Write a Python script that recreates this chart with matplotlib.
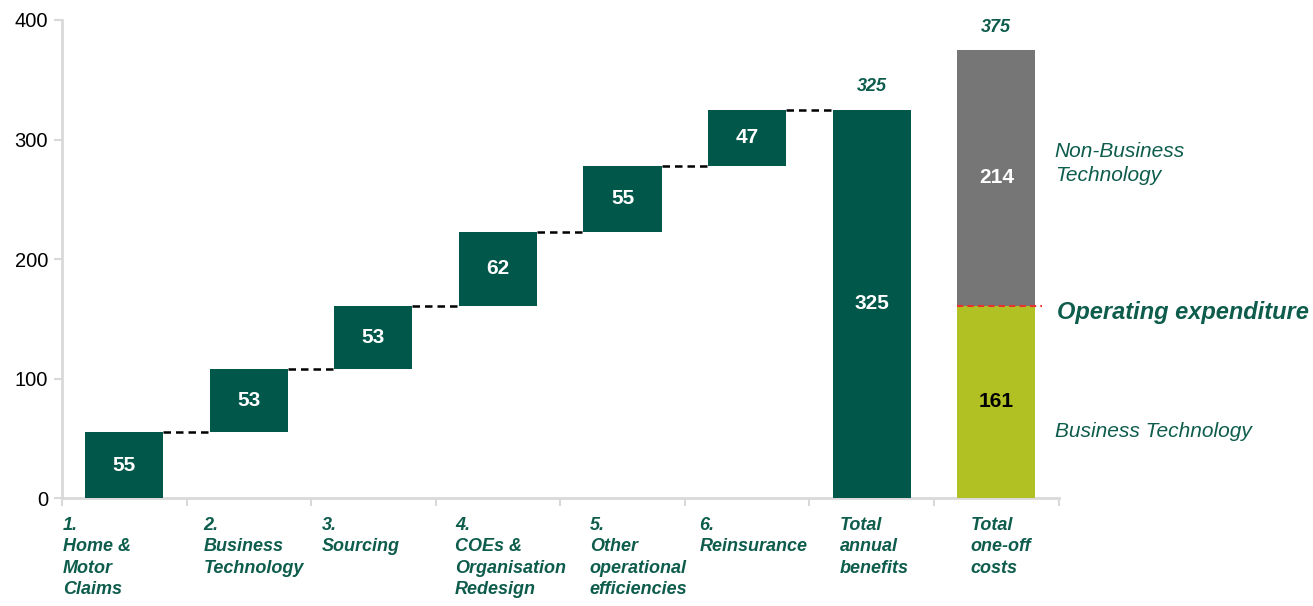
import numpy as np
from matplotlib import pyplot as plt

plt.rcParams['font.family'] = ['Liberation Sans', 'DejaVu Sans']

# waterfall steps (annual benefits) and one-off cost split
step_labels = ['1.\nHome &\nMotor\nClaims', '2.\nBusiness\nTechnology', '3.\nSourcing',
               '4.\nCOEs &\nOrganisation\nRedesign', '5.\nOther\noperational\nefficiencies',
               '6.\nReinsurance']
step_values = [55, 53, 53, 62, 55, 47]
total_label = 'Total\nannual\nbenefits'
cost_label = 'Total\none-off\ncosts'
cost_business_tech = 161
cost_non_business_tech = 214

GREEN = '#00574a'
OLIVE = '#b1c124'
GREY = '#767676'
TEXT_GREEN = '#0d5c4c'

fig = plt.figure(figsize=(13.13, 6.06), dpi=100)
ax = fig.add_axes([0.0472, 0.178, 0.759, 0.789])

width = 0.627
cum = np.cumsum(step_values)
bottoms = cum - np.array(step_values)
n = len(step_values)
xs = np.arange(n)

ax.bar(xs, step_values, bottom=bottoms, width=width, color=GREEN, zorder=3)
for x, b, v in zip(xs, bottoms, step_values):
    ax.text(x, b + v / 2, str(v), ha='center', va='center', color='white',
            fontsize=15, fontweight='bold', zorder=4)

# connectors between consecutive steps
for i in range(n):
    ax.plot([i + width / 2, i + 1 - width / 2], [cum[i], cum[i]], color='black',
            linestyle=(0, (3, 2)), linewidth=1.8, zorder=2)

# total benefits
total = cum[-1]
ax.bar(n, total, width=width, color=GREEN, zorder=3)
ax.text(n, total / 2, str(total), ha='center', va='center', color='white',
        fontsize=15, fontweight='bold', zorder=4)
ax.text(n, total + 12, str(total), ha='center', va='bottom', color=TEXT_GREEN,
        fontsize=13, fontweight='bold', style='italic')

# one-off costs, stacked
xc = n + 1
total_cost = cost_business_tech + cost_non_business_tech
ax.bar(xc, cost_business_tech, width=width, color=OLIVE, zorder=3)
ax.bar(xc, cost_non_business_tech, bottom=cost_business_tech, width=width,
       color=GREY, zorder=3)
ax.text(xc, cost_business_tech / 2, str(cost_business_tech), ha='center', va='center',
        color='black', fontsize=15, fontweight='bold', zorder=4)
ax.text(xc, cost_business_tech + cost_non_business_tech / 2, str(cost_non_business_tech),
        ha='center', va='center', color='white', fontsize=15, fontweight='bold', zorder=4)
ax.text(xc, total_cost + 12, str(total_cost), ha='center', va='bottom', color=TEXT_GREEN,
        fontsize=13, fontweight='bold', style='italic')
ax.plot([xc - width / 2, xc + width / 2 + 0.05], [cost_business_tech] * 2, color='#e8322d',
        linestyle=(0, (3, 2)), linewidth=1.5, zorder=4, clip_on=False)

# side annotations for the cost split
ax.text(xc + 0.47, cost_business_tech + 119, 'Non-Business\nTechnology', ha='left',
        va='center', color=TEXT_GREEN, fontsize=15, style='italic', linespacing=1.3,
        clip_on=False)
ax.text(xc + 0.49, cost_business_tech - 6, 'Operating expenditure', ha='left', va='center',
        color=TEXT_GREEN, fontsize=17, fontweight='bold', style='italic', clip_on=False)
ax.text(xc + 0.47, cost_business_tech - 105, 'Business Technology', ha='left', va='center',
        color=TEXT_GREEN, fontsize=15, style='italic', clip_on=False)

# category labels below the axis
cat_labels = step_labels + [total_label, cost_label]
label_shift = [-0.22, 0.04, -0.1, 0.1, 0.13, 0.05, 0.02, 0.04]
for i, (lab, dx) in enumerate(zip(cat_labels, label_shift)):
    ax.text(i + dx, -16, lab, ha='center', va='top', ma='left', color=TEXT_GREEN,
            fontsize=13, fontweight='bold', style='italic', linespacing=1.32,
            transform=ax.transData, clip_on=False)

ax.set_xlim(-0.5, n + 1.5)
ax.set_ylim(0, 400)
ax.set_yticks([0, 100, 200, 300, 400])
ax.set_xticks(np.arange(-0.5, n + 2, 1.0))
ax.set_xticklabels([])
ax.tick_params(axis='y', labelsize=14.5, color='#d9d9d9', length=6, width=1.5, pad=4)
ax.tick_params(axis='x', color='#d9d9d9', length=6, width=1.5, direction='out')
for side in ['top', 'right']:
    ax.spines[side].set_visible(False)
for side in ['left', 'bottom']:
    ax.spines[side].set_color('#d9d9d9')
    ax.spines[side].set_linewidth(2)

plt.savefig('out.png', dpi=100)
